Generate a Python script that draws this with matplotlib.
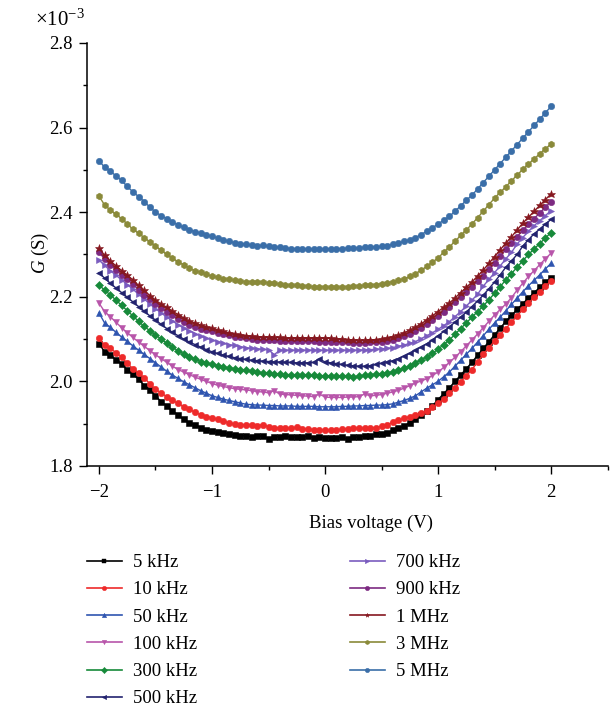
import numpy as np
import matplotlib
matplotlib.use("Agg")
import matplotlib.pyplot as plt
from matplotlib.lines import Line2D
from matplotlib.ticker import MultipleLocator, FormatStrFormatter

plt.rcParams['font.family'] = ['Liberation Serif', 'DejaVu Serif']
plt.rcParams['mathtext.fontset'] = 'custom'
plt.rcParams['mathtext.rm'] = 'Liberation Serif'
plt.rcParams['mathtext.it'] = 'Liberation Serif:italic'

# Bias voltage sweep (V), 0.05 V step
bias = np.round(np.linspace(-2.0, 2.0, 81), 2)

labels = ["5 kHz", "10 kHz", "50 kHz", "100 kHz", "300 kHz", "500 kHz",
          "700 kHz", "900 kHz", "1 MHz", "3 MHz", "5 MHz"]

# Conductance values in units of 1e-3 S
g_5k = [2.089, 2.070, 2.062, 2.051, 2.041, 2.027, 2.017, 2.005, 1.990, 1.980,
        1.966, 1.952, 1.942, 1.930, 1.921, 1.910, 1.902, 1.897, 1.891, 1.886,
        1.882, 1.880, 1.877, 1.876, 1.873, 1.872, 1.871, 1.869, 1.872, 1.870,
        1.865, 1.869, 1.869, 1.870, 1.868, 1.869, 1.868, 1.870, 1.867, 1.868,
        1.866, 1.867, 1.866, 1.868, 1.863, 1.869, 1.868, 1.871, 1.872, 1.875,
        1.876, 1.878, 1.884, 1.889, 1.895, 1.902, 1.910, 1.920, 1.930, 1.942,
        1.957, 1.971, 1.985, 2.000, 2.015, 2.030, 2.045, 2.062, 2.078, 2.094,
        2.110, 2.126, 2.142, 2.156, 2.170, 2.184, 2.197, 2.210, 2.222, 2.234,
        2.245]
g_10k = [2.102, 2.086, 2.078, 2.068, 2.057, 2.043, 2.030, 2.020, 2.009, 1.994,
         1.982, 1.972, 1.964, 1.955, 1.948, 1.940, 1.934, 1.927, 1.921, 1.917,
         1.914, 1.910, 1.907, 1.902, 1.899, 1.896, 1.898, 1.898, 1.895, 1.898,
         1.893, 1.891, 1.890, 1.889, 1.889, 1.892, 1.888, 1.887, 1.886, 1.885,
         1.884, 1.884, 1.885, 1.887, 1.888, 1.889, 1.889, 1.889, 1.890, 1.891,
         1.894, 1.897, 1.904, 1.909, 1.913, 1.917, 1.921, 1.925, 1.931, 1.939,
         1.948, 1.958, 1.972, 1.985, 1.999, 2.013, 2.028, 2.046, 2.064, 2.080,
         2.095, 2.110, 2.125, 2.140, 2.155, 2.170, 2.185, 2.199, 2.212, 2.225,
         2.238]
g_50k = [2.162, 2.138, 2.128, 2.116, 2.105, 2.095, 2.084, 2.074, 2.064, 2.054,
         2.044, 2.034, 2.024, 2.015, 2.007, 1.999, 1.992, 1.985, 1.978, 1.972,
         1.966, 1.962, 1.958, 1.955, 1.952, 1.949, 1.946, 1.945, 1.944, 1.944,
         1.943, 1.943, 1.942, 1.942, 1.942, 1.941, 1.941, 1.941, 1.941, 1.940,
         1.940, 1.940, 1.940, 1.941, 1.941, 1.942, 1.942, 1.943, 1.943, 1.944,
         1.944, 1.945, 1.947, 1.951, 1.955, 1.960, 1.966, 1.975, 1.984, 1.992,
         2.000, 2.011, 2.022, 2.036, 2.050, 2.064, 2.078, 2.093, 2.108, 2.123,
         2.138, 2.152, 2.167, 2.182, 2.197, 2.212, 2.226, 2.239, 2.252, 2.266,
         2.279]
g_100k = [2.185, 2.165, 2.153, 2.140, 2.127, 2.115, 2.104, 2.093, 2.083, 2.073,
          2.063, 2.054, 2.045, 2.036, 2.028, 2.022, 2.016, 2.010, 2.005, 2.000,
          1.995, 1.991, 1.988, 1.985, 1.983, 1.981, 1.980, 1.978, 1.976, 1.975,
          1.973, 1.978, 1.970, 1.969, 1.968, 1.967, 1.966, 1.965, 1.964, 1.970,
          1.963, 1.962, 1.962, 1.962, 1.963, 1.963, 1.964, 1.970, 1.966, 1.967,
          1.969, 1.972, 1.975, 1.979, 1.984, 1.990, 1.996, 2.001, 2.006, 2.014,
          2.022, 2.033, 2.045, 2.057, 2.070, 2.084, 2.098, 2.112, 2.127, 2.142,
          2.157, 2.170, 2.183, 2.198, 2.216, 2.232, 2.248, 2.262, 2.276, 2.290,
          2.303]
g_300k = [2.229, 2.215, 2.205, 2.192, 2.180, 2.167, 2.155, 2.142, 2.130, 2.120,
          2.110, 2.100, 2.090, 2.081, 2.072, 2.065, 2.058, 2.052, 2.047, 2.043,
          2.040, 2.037, 2.034, 2.032, 2.030, 2.028, 2.026, 2.024, 2.022, 2.020,
          2.019, 2.018, 2.017, 2.016, 2.016, 2.015, 2.015, 2.014, 2.014, 2.013,
          2.013, 2.013, 2.013, 2.012, 2.012, 2.010, 2.013, 2.014, 2.016, 2.017,
          2.018, 2.020, 2.023, 2.027, 2.031, 2.037, 2.044, 2.051, 2.058, 2.066,
          2.076, 2.087, 2.098, 2.111, 2.125, 2.138, 2.152, 2.165, 2.178, 2.193,
          2.208, 2.224, 2.240, 2.255, 2.270, 2.285, 2.300, 2.313, 2.326, 2.339,
          2.352]
g_500k = [2.257, 2.244, 2.232, 2.221, 2.210, 2.199, 2.188, 2.177, 2.166, 2.155,
          2.145, 2.135, 2.125, 2.116, 2.108, 2.100, 2.093, 2.087, 2.081, 2.075,
          2.070, 2.066, 2.062, 2.059, 2.056, 2.054, 2.052, 2.050, 2.049, 2.048,
          2.047, 2.046, 2.046, 2.045, 2.045, 2.044, 2.044, 2.044, 2.045, 2.053,
          2.046, 2.044, 2.042, 2.040, 2.038, 2.037, 2.036, 2.036, 2.037, 2.040,
          2.043, 2.046, 2.049, 2.054, 2.060, 2.066, 2.074, 2.081, 2.089, 2.098,
          2.108, 2.118, 2.129, 2.140, 2.152, 2.164, 2.177, 2.190, 2.204, 2.219,
          2.235, 2.252, 2.270, 2.285, 2.300, 2.320, 2.335, 2.349, 2.360, 2.372,
          2.383]
g_700k = [2.287, 2.274, 2.262, 2.251, 2.240, 2.229, 2.218, 2.206, 2.195, 2.183,
          2.172, 2.162, 2.152, 2.143, 2.134, 2.126, 2.119, 2.113, 2.107, 2.102,
          2.098, 2.094, 2.090, 2.087, 2.085, 2.082, 2.080, 2.078, 2.077, 2.076,
          2.075, 2.063, 2.074, 2.074, 2.074, 2.074, 2.074, 2.074, 2.074, 2.074,
          2.074, 2.074, 2.074, 2.074, 2.074, 2.074, 2.074, 2.075, 2.075, 2.076,
          2.077, 2.078, 2.080, 2.083, 2.086, 2.090, 2.094, 2.101, 2.108, 2.115,
          2.123, 2.132, 2.141, 2.153, 2.165, 2.178, 2.192, 2.206, 2.225, 2.241,
          2.257, 2.273, 2.290, 2.305, 2.325, 2.340, 2.355, 2.368, 2.380, 2.392,
          2.404]
g_900k = [2.305, 2.290, 2.276, 2.264, 2.252, 2.241, 2.230, 2.217, 2.205, 2.194,
          2.183, 2.174, 2.165, 2.156, 2.148, 2.141, 2.134, 2.129, 2.125, 2.122,
          2.119, 2.115, 2.112, 2.109, 2.106, 2.104, 2.102, 2.100, 2.099, 2.098,
          2.097, 2.097, 2.096, 2.096, 2.096, 2.095, 2.095, 2.095, 2.095, 2.094,
          2.094, 2.093, 2.093, 2.092, 2.092, 2.091, 2.091, 2.091, 2.092, 2.093,
          2.094, 2.096, 2.099, 2.103, 2.107, 2.113, 2.119, 2.127, 2.135, 2.144,
          2.154, 2.165, 2.176, 2.188, 2.200, 2.212, 2.224, 2.237, 2.250, 2.265,
          2.280, 2.296, 2.312, 2.327, 2.342, 2.357, 2.371, 2.385, 2.398, 2.412,
          2.425]
g_1M = [2.315, 2.298, 2.285, 2.273, 2.262, 2.251, 2.240, 2.227, 2.215, 2.203,
        2.192, 2.183, 2.175, 2.166, 2.158, 2.150, 2.143, 2.138, 2.133, 2.129,
        2.126, 2.122, 2.118, 2.115, 2.112, 2.110, 2.108, 2.107, 2.106, 2.105,
        2.105, 2.104, 2.104, 2.103, 2.103, 2.103, 2.103, 2.103, 2.103, 2.103,
        2.103, 2.102, 2.101, 2.100, 2.099, 2.098, 2.097, 2.097, 2.098, 2.099,
        2.100, 2.103, 2.106, 2.110, 2.115, 2.121, 2.128, 2.136, 2.145, 2.155,
        2.165, 2.175, 2.185, 2.197, 2.210, 2.222, 2.235, 2.249, 2.263, 2.279,
        2.295, 2.311, 2.327, 2.342, 2.358, 2.374, 2.388, 2.402, 2.416, 2.430,
        2.443]
g_3M = [2.438, 2.417, 2.405, 2.395, 2.385, 2.372, 2.360, 2.350, 2.340, 2.330,
        2.320, 2.310, 2.300, 2.291, 2.283, 2.276, 2.268, 2.262, 2.258, 2.253,
        2.249, 2.246, 2.243, 2.241, 2.239, 2.237, 2.236, 2.236, 2.236, 2.235,
        2.233, 2.232, 2.230, 2.228, 2.227, 2.227, 2.226, 2.225, 2.224, 2.224,
        2.223, 2.222, 2.222, 2.223, 2.224, 2.225, 2.226, 2.227, 2.228, 2.229,
        2.231, 2.233, 2.236, 2.239, 2.243, 2.248, 2.255, 2.263, 2.272, 2.282,
        2.292, 2.305, 2.318, 2.331, 2.345, 2.358, 2.372, 2.387, 2.402, 2.418,
        2.433, 2.447, 2.460, 2.474, 2.488, 2.501, 2.514, 2.526, 2.538, 2.550,
        2.561]
g_5M = [2.522, 2.506, 2.497, 2.486, 2.475, 2.461, 2.448, 2.437, 2.425, 2.412,
        2.400, 2.392, 2.385, 2.377, 2.370, 2.364, 2.359, 2.354, 2.350, 2.346,
        2.343, 2.339, 2.335, 2.331, 2.328, 2.326, 2.324, 2.322, 2.321, 2.322,
        2.319, 2.318, 2.317, 2.315, 2.314, 2.314, 2.313, 2.313, 2.313, 2.313,
        2.313, 2.313, 2.314, 2.314, 2.315, 2.315, 2.316, 2.317, 2.318, 2.318,
        2.319, 2.321, 2.324, 2.327, 2.331, 2.335, 2.340, 2.347, 2.355, 2.363,
        2.372, 2.381, 2.390, 2.402, 2.415, 2.428, 2.440, 2.455, 2.470, 2.485,
        2.500, 2.515, 2.530, 2.545, 2.560, 2.575, 2.590, 2.605, 2.620, 2.635,
        2.650]

series = [g_5k, g_10k, g_50k, g_100k, g_300k, g_500k, g_700k, g_900k, g_1M, g_3M, g_5M]
colors = ['#000000', '#ee2a2a', '#2f55b0', '#b855aa', '#178a3a', '#23236f',
          '#7a5cbf', '#7d2a82', '#861820', '#8a8a3a', '#3a6ea8']
markers = ['s', 'o', '^', 'v', 'D', '<', '>', 'o', '*', 'h', 'o']
msizes = [4.4, 4.6, 4.8, 4.8, 3.8, 4.8, 4.8, 4.6, 6.2, 4.8, 4.6]

W, H = 612, 707
fig = plt.figure(figsize=(W / 100, H / 100), dpi=100)
ax = fig.add_axes([87 / W, 1 - 466 / H, (608 - 87) / W, (466 - 43) / H])

for vals, c, m, ms, lab in zip(series, colors, markers, msizes, labels):
    ax.plot(bias, vals, color=c, marker=m, markersize=ms, lw=1.0,
            markeredgewidth=0.4, markeredgecolor=c, label=lab)

ax.set_xlim(-2.106, 2.504)
ax.set_ylim(1.8, 2.8)
ax.xaxis.set_major_locator(MultipleLocator(1))
ax.xaxis.set_minor_locator(MultipleLocator(0.5))
ax.yaxis.set_major_locator(MultipleLocator(0.2))
ax.yaxis.set_minor_locator(MultipleLocator(0.1))
ax.yaxis.set_major_formatter(FormatStrFormatter('%.1f'))
ax.xaxis.set_major_formatter(matplotlib.ticker.FuncFormatter(
    lambda v, p: ('\u2212%d' % abs(round(v))) if v < 0 else '%d' % round(v)))
for s in ['top', 'right']:
    ax.spines[s].set_visible(False)
for s in ['left', 'bottom']:
    ax.spines[s].set_linewidth(1.1)
ax.tick_params(which='major', direction='out', length=5.5, width=1.0, labelsize=13.5)
ax.tick_params(which='minor', direction='out', length=3.0, width=1.0)
ax.tick_params(axis='x', which='major', pad=7.5)
ax.tick_params(axis='y', which='major', pad=5)

fig.text(35 / W, 1 - 20 / H, '\u00d710$^{-3}$', fontsize=15, ha='left', va='center')
fig.text(40 / W, 1 - 253 / H, '$\\mathit{G}$ (S)', fontsize=13.5, rotation=90,
         ha='center', va='center')
fig.text(371 / W, 1 - 523 / H, 'Bias voltage (V)', fontsize=13.5, ha='center', va='center')

handles = [Line2D([], [], color=c, marker=m, markersize=3.2, lw=1.2, markeredgewidth=0.3)
           for c, m in zip(colors, markers)]
common = dict(frameon=False, fontsize=13.5, handlelength=1.85, handletextpad=0.62,
              labelspacing=0.54, borderpad=0, borderaxespad=0, loc='upper left')
leg1 = fig.legend(handles[:6], labels[:6], bbox_to_anchor=(87 / W, 1 - 554 / H), **common)
leg2 = fig.legend(handles[6:], labels[6:], bbox_to_anchor=(350 / W, 1 - 554 / H), **common)

fig.savefig('out.png', dpi=100)
